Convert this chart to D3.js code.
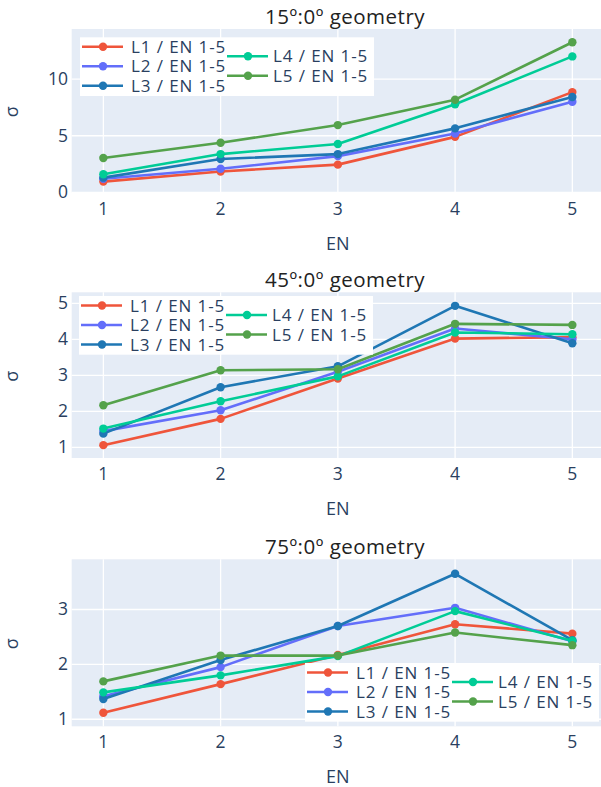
<!doctype html>
<html lang="en">
<head>
  <meta charset="utf-8">
  <script src="https://d3js.org/d3.v7.min.js"></script>
  <style>
    body { margin: 0; background: #fff; }
    svg { display: block; font-family: "Open Sans", sans-serif; }
  </style>
</head>
<body>
  <script>
    // --- data ---
    var enValues = [1, 2, 3, 4, 5];
    var seriesNames = ["L1 / EN 1-5", "L2 / EN 1-5", "L3 / EN 1-5", "L4 / EN 1-5", "L5 / EN 1-5"];
    var seriesColors = ["#EF553B", "#636EFA", "#1F77B4", "#00CC96", "#54A24B"];

    // sigma per series (L1..L5), one array per geometry
    var sigma15 = [
      [0.95, 1.85, 2.45, 4.9, 8.85],
      [1.2, 2.08, 3.2, 5.2, 8.0],
      [1.3, 2.95, 3.38, 5.65, 8.42],
      [1.6, 3.38, 4.27, 7.78, 12.0],
      [3.03, 4.38, 5.94, 8.18, 13.25]
    ];
    var sigma45 = [
      [1.06, 1.79, 2.91, 4.02, 4.06],
      [1.45, 2.03, 3.1, 4.3, 4.0],
      [1.38, 2.67, 3.25, 4.93, 3.89],
      [1.52, 2.28, 2.97, 4.19, 4.14],
      [2.17, 3.14, 3.17, 4.43, 4.40]
    ];
    var sigma75 = [
      [1.12, 1.64, 2.17, 2.73, 2.56],
      [1.42, 1.95, 2.70, 3.03, 2.42],
      [1.37, 2.08, 2.70, 3.65, 2.44],
      [1.49, 1.80, 2.15, 2.97, 2.43],
      [1.69, 2.16, 2.16, 2.58, 2.35]
    ];
    var titles = ["15º:0º geometry", "45º:0º geometry", "75º:0º geometry"];
    var yTicks15 = [0, 5, 10];
    var yTicks45 = [1, 2, 3, 4, 5];
    var yTicks75 = [1, 2, 3];

    // --- layout of the three stacked panels ---
    var width = 601, height = 787;
    var panels = [
      { title: titles[0], data: sigma15, ticks: yTicks15, domain: [-0.01, 14.42], top: 29, bottom: 192.5, legend: [80, 37.3] },
      { title: titles[1], data: sigma45, ticks: yTicks45, domain: [0.703, 5.306], top: 292.3, bottom: 458, legend: [79, 296] },
      { title: titles[2], data: sigma75, ticks: yTicks75, domain: [0.872, 3.914], top: 559.3, bottom: 726.3, legend: [305, 663] }
    ];

    var x = d3.scaleLinear().domain([0.73, 5.27]).range([71.7, 604]);

    var svg = d3.select("body").append("svg")
        .attr("width", width)
        .attr("height", height);

    panels.forEach(function(p) {
      var y = d3.scaleLinear().domain(p.domain).range([p.bottom, p.top]);
      var g = svg.append("g");

      // plot background
      g.append("rect")
          .attr("x", x.range()[0]).attr("y", p.top)
          .attr("width", x.range()[1] - x.range()[0])
          .attr("height", p.bottom - p.top)
          .attr("fill", "#E5ECF6");

      // grid lines
      g.selectAll(".xgrid").data(enValues).enter().append("line")
          .attr("x1", function(d) { return x(d); }).attr("x2", function(d) { return x(d); })
          .attr("y1", p.top).attr("y2", p.bottom)
          .attr("stroke", "#fff").attr("stroke-width", 1.3);
      g.selectAll(".ygrid").data(p.ticks).enter().append("line")
          .attr("x1", x.range()[0]).attr("x2", x.range()[1])
          .attr("y1", function(d) { return y(d); }).attr("y2", function(d) { return y(d); })
          .attr("stroke", "#fff").attr("stroke-width", 1.3);

      // tick labels
      g.selectAll(".xt").data(enValues).enter().append("text")
          .attr("x", function(d) { return x(d); })
          .attr("y", p.bottom + 22)
          .attr("text-anchor", "middle")
          .attr("font-size", 17.5).attr("fill", "#2a3f5f")
          .text(function(d) { return d; });
      g.selectAll(".yt").data(p.ticks).enter().append("text")
          .attr("x", 68)
          .attr("y", function(d) { return y(d) + 6; })
          .attr("text-anchor", "end")
          .attr("font-size", 17.5).attr("fill", "#2a3f5f")
          .text(function(d) { return d; });

      // axis titles and panel title
      g.append("text")
          .attr("x", x(3)).attr("y", p.bottom + 57)
          .attr("text-anchor", "middle")
          .attr("font-size", 18).attr("fill", "#2a3f5f")
          .text("EN");
      g.append("text")
          .attr("transform", "translate(18," + ((p.top + p.bottom) / 2 + 1) + ") rotate(-90)")
          .attr("text-anchor", "middle")
          .attr("font-size", 18).attr("fill", "#2a3f5f")
          .text("σ");
      g.append("text")
          .attr("x", 345).attr("y", p.top - 5)
          .attr("text-anchor", "middle")
          .attr("font-size", 20.5).attr("letter-spacing", 0.5).attr("fill", "#222")
          .text(p.title);

      // series
      var line = d3.line()
          .x(function(d, i) { return x(enValues[i]); })
          .y(function(d) { return y(d); });
      p.data.forEach(function(vals, k) {
        g.append("path")
            .attr("d", line(vals))
            .attr("fill", "none")
            .attr("stroke", seriesColors[k])
            .attr("stroke-width", 2.6)
            .attr("stroke-linejoin", "round");
        g.selectAll(".m" + k).data(vals).enter().append("circle")
            .attr("cx", function(d, i) { return x(enValues[i]); })
            .attr("cy", function(d) { return y(d); })
            .attr("r", 4.2)
            .attr("fill", seriesColors[k]);
      });

      // legend
      var lx = p.legend[0], ly = p.legend[1];
      var leg = g.append("g").attr("transform", "translate(" + lx + "," + ly + ")");
      leg.append("rect")
          .attr("width", 294).attr("height", 58.7)
          .attr("fill", "#fff");
      seriesNames.forEach(function(name, k) {
        var col = k < 3 ? 0 : 1;
        var row = k < 3 ? k : k - 3;
        var ex = col === 0 ? 0 : 145;
        var ey = col === 0 ? 9.5 + row * 19.5 : 19 + row * 19.5;
        var e = leg.append("g").attr("transform", "translate(" + ex + "," + ey + ")");
        e.append("line")
            .attr("x1", 2).attr("x2", 43).attr("y1", 0).attr("y2", 0)
            .attr("stroke", seriesColors[k]).attr("stroke-width", 2.6);
        e.append("circle")
            .attr("cx", 23).attr("cy", 0).attr("r", 4.2)
            .attr("fill", seriesColors[k]);
        e.append("text")
            .attr("x", col === 0 ? 51 : 48).attr("y", 6)
            .attr("font-size", 17).attr("letter-spacing", 0.9).attr("fill", "#2a3f5f")
            .text(name);
      });
    });
  </script>
</body>
</html>
